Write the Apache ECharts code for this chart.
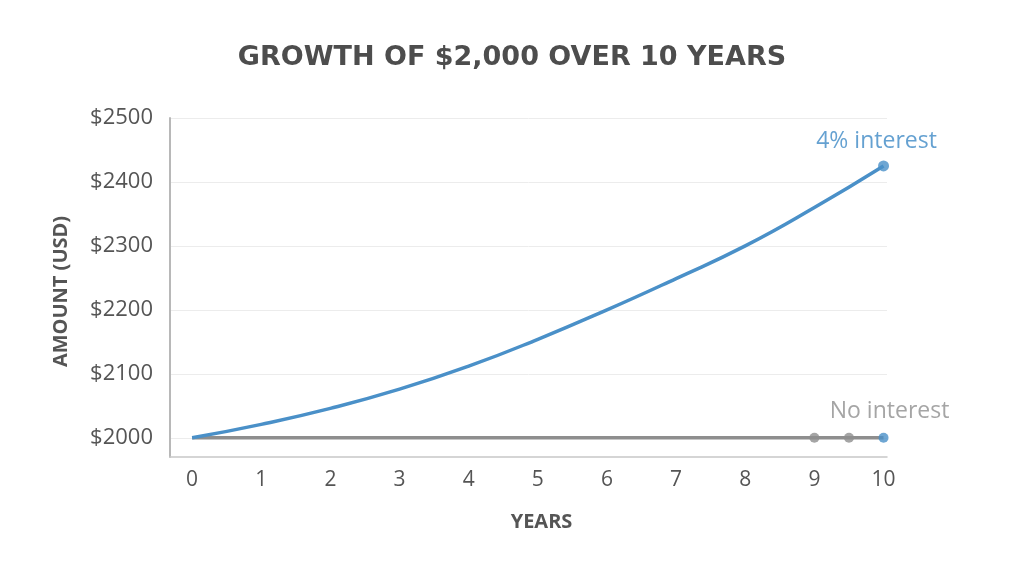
<!DOCTYPE html>
<html>
<head>
<meta charset="utf-8">
<script src="https://cdn.jsdelivr.net/npm/echarts@6/dist/echarts.min.js"></script>
<style>html,body{margin:0;padding:0;background:#fff}#c{width:1024px;height:572px}</style>
</head>
<body>
<div id="c"></div>
<script>
const years = [0,1,2,3,4,5,6,7,8,9,10];
const withInterest = [2000,2021,2046,2076,2112,2154,2200,2249,2300,2360,2425];
const noInterest = [2000,2000,2000,2000,2000,2000,2000,2000,2000,2000,2000];
const noInterestDotYears = [9, 9.5];
const xTicks = [0,1,2,3,4,5,6,7,8,9,10];
const yTicks = [2000,2100,2200,2300,2400,2500];

const font = '"Open Sans", sans-serif';
const blue = '#4a90c8';
const gray = '#8e8e8e';

const chart = echarts.init(document.getElementById('c'));
chart.setOption({
  animation: false,
  title: {
    text: 'GROWTH OF $2,000 OVER 10 YEARS',
    left: 'center', top: 39,
    textStyle: {fontFamily: '"DejaVu Sans", sans-serif', fontSize: 27, fontWeight: 'bold', color: '#4d4d4d'}
  },
  grid: {left: 170, top: 118, right: 137, bottom: 115},
  xAxis: {
    type: 'value', min: -0.32, max: 10.05,
    name: 'YEARS', nameLocation: 'middle', nameGap: 55,
    nameTextStyle: {fontFamily: font, fontSize: 20, fontWeight: 700, color: '#555', padding: [0, 0, 0, 26]},
    axisLine: {show: true, onZero: false, lineStyle: {color: '#c8c8c8', width: 1.5}},
    axisTick: {show: false},
    splitLine: {show: false},
    axisLabel: {customValues: xTicks, margin: 13, fontFamily: font, fontSize: 21, color: '#555'}
  },
  yAxis: {
    type: 'value', min: 1970, max: 2500,
    name: 'AMOUNT (USD)', nameLocation: 'middle', nameGap: 99,
    nameTextStyle: {fontFamily: font, fontSize: 20, fontWeight: 700, color: '#555', padding: [0, 8, 0, 0]},
    axisLine: {show: true, onZero: false, lineStyle: {color: '#b8b8b8', width: 2}},
    axisTick: {show: false, customValues: yTicks},
    splitLine: {show: true, lineStyle: {color: '#ececec', width: 1}},
    axisLabel: {customValues: yTicks, margin: 17, fontFamily: font, fontSize: 22, color: '#555',
      formatter: v => '$' + v}
  },
  series: [
    {
      type: 'line', name: 'No interest', smooth: false, showSymbol: false,
      data: years.map((y, i) => [y, noInterest[i]]),
      lineStyle: {color: gray, width: 3.5}, z: 2
    },
    {
      type: 'scatter', data: noInterestDotYears.map(y => [y, noInterest[noInterest.length-1]]),
      symbolSize: 10, itemStyle: {color: gray}, z: 3
    },
    {
      type: 'scatter', data: [[years[years.length-1], noInterest[noInterest.length-1]]],
      symbolSize: 10, itemStyle: {color: blue}, z: 4,
      label: {show: true, formatter: 'No interest', position: 'top', distance: 10, offset: [6, 0],
        fontFamily: font, fontSize: 23, color: '#8f8f8f'}
    },
    {
      type: 'line', name: '4% interest', smooth: 0.5, showSymbol: false,
      data: years.map((y, i) => [y, withInterest[i]]),
      lineStyle: {color: blue, width: 3.5}, z: 5
    },
    {
      type: 'scatter', data: [[years[years.length-1], withInterest[withInterest.length-1]]],
      symbolSize: 11, itemStyle: {color: blue}, z: 6,
      label: {show: true, formatter: '4% interest', position: 'top', distance: 8, offset: [-7, 0],
        fontFamily: font, fontSize: 23, color: '#3f89c6'}
    }
  ]
});
</script>
</body>
</html>
